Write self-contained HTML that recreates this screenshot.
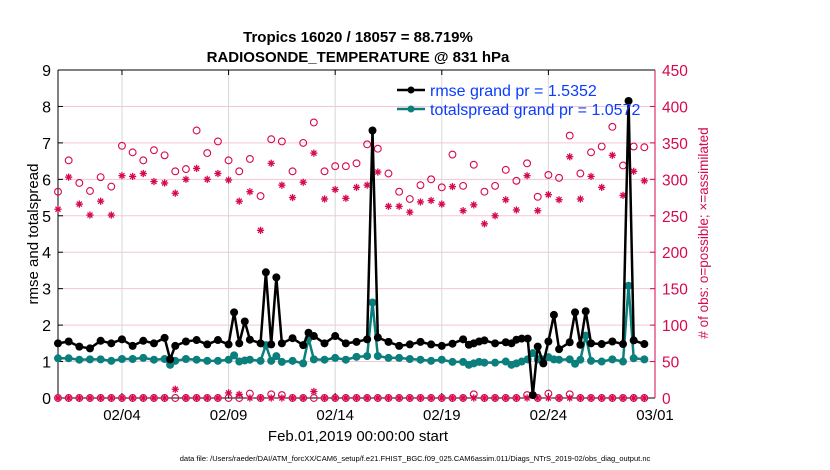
<!DOCTYPE html>
<html><head><meta charset="utf-8"><style>
html,body{margin:0;padding:0;background:#fff;}
svg{display:block;font-family:"Liberation Sans",sans-serif;}
</style></head><body>
<svg id="chart" width="830" height="470">
<text x="358" y="42" text-anchor="middle" font-size="15" font-weight="bold">Tropics 16020 / 18057 = 88.719%</text>
<text x="358" y="62" text-anchor="middle" font-size="15" font-weight="bold">RADIOSONDE_TEMPERATURE @ 831 hPa</text>
<g id="grid"></g>
<g id="axes"></g>
<g id="marks"></g>
<text transform="translate(38,234) rotate(-90)" text-anchor="middle" font-size="15">rmse and totalspread</text>
<text transform="translate(708,233) rotate(-90)" text-anchor="middle" font-size="13.5" fill="#d6084f"># of obs: o=possible; ×=assimilated</text>
<text x="358" y="441" text-anchor="middle" font-size="15">Feb.01,2019 00:00:00 start</text>
<text x="415" y="461" text-anchor="middle" font-size="7.5">data file: /Users/raeder/DAI/ATM_forcXX/CAM6_setup/f.e21.FHIST_BGC.f09_025.CAM6assim.011/Diags_NTrS_2019-02/obs_diag_output.nc</text>
<g>
<g>
<line x1="397" y1="90" x2="425" y2="90" stroke="#000" stroke-width="2.5"/><circle cx="411" cy="90" r="3.5" fill="#000"/>
<text x="430" y="96" font-size="16" fill="#0a3cff">rmse grand pr = 1.5352</text></g>
<g>
<line x1="397" y1="109" x2="425" y2="109" stroke="#0a7f7c" stroke-width="2.5"/><circle cx="411" cy="109" r="3.5" fill="#0a7f7c"/>
<text x="430" y="115" font-size="16" fill="#0a3cff">totalspread grand pr = 1.0572</text></g>
</g>
</svg>
<script>
const xTickLabels=["02/04","02/09","02/14","02/19","02/24","03/01"];
const xTickDays=[3,8,13,18,23,28];
const yTicksLeft=[0,1,2,3,4,5,6,7,8,9];
const yTicksRight=[0,50,100,150,200,250,300,350,400,450];
const lineT=[0,0.5,1,1.5,2,2.5,3,3.5,4,4.5,5,5.26,5.5,6,6.5,7,7.5,8,8.26,8.5,8.76,9,9.5,9.75,10,10.24,10.5,11,11.5,11.75,12,12.5,13,13.5,14,14.5,14.75,15,15.5,16,16.5,17,17.5,18,18.5,19,19.27,19.5,19.75,20,20.5,21,21.27,21.5,21.75,22.03,22.27,22.5,22.76,23,23.26,23.5,24,24.25,24.5,24.75,25,25.5,26,26.5,26.76,27,27.5];
const rmse=[1.5,1.55,1.41,1.36,1.57,1.5,1.61,1.43,1.57,1.5,1.65,1.06,1.43,1.55,1.59,1.47,1.59,1.47,2.35,1.5,2.1,1.6,1.5,3.45,1.47,3.31,1.5,1.64,1.45,1.79,1.7,1.5,1.7,1.5,1.54,1.61,7.34,1.66,1.54,1.43,1.47,1.54,1.47,1.43,1.49,1.61,1.46,1.5,1.55,1.58,1.5,1.53,1.5,1.6,1.63,1.63,0.08,1.41,0.95,1.55,2.28,1.34,1.53,2.35,1.46,2.38,1.5,1.48,1.55,1.48,8.15,1.58,1.48];
const spread=[1.09,1.09,1.05,1.06,1.06,1.02,1.07,1.07,1.1,1.05,1.07,0.91,1.02,1.07,1.05,1.02,1.02,1.05,1.17,1.0,1.03,1.05,1.02,1.45,1.02,1.15,0.99,1.02,0.95,1.63,1.06,1.05,1.1,1.05,1.13,1.15,2.62,1.15,1.1,1.1,1.07,1.05,1.02,1.05,0.99,0.99,0.91,0.95,0.99,0.97,0.97,1.0,0.91,0.95,1.0,1.06,1.23,1.06,1.06,1.12,1.06,1.05,1.06,0.94,1.05,1.71,1.02,1.0,1.06,1.0,3.08,1.09,1.06];
const obsT=[0,0.5,1,1.5,2,2.5,3,3.5,4,4.5,5,5.5,6,6.5,7,7.5,8,8.5,9,9.5,10,10.5,11,11.5,12,12.5,13,13.5,14,14.5,15,15.5,16,16.5,17,17.5,18,18.5,19,19.5,20,20.5,21,21.5,22,22.5,23,23.5,24,24.5,25,25.5,26,26.5,27,27.5];
const possible=[283,326,295,284,303,290,346,337,326,340,333,311,314,367,336,352,326,311,328,277,355,352,311,350,378,311,318,318,322,348,342,308,283,273,292,300,289,334,291,320,283,291,313,298,322,276,306,302,360,308,337,345,372,319,345,344];
const assimilated=[259,303,266,251,270,251,305,304,308,297,295,281,300,315,300,308,299,270,283,230,322,292,275,296,336,273,286,274,289,292,310,263,263,255,269,271,266,290,257,265,239,250,272,258,305,257,279,272,331,273,304,289,333,278,311,298];
const lowPossible=[0,0,0,0,0,0,0,0,0,0,0,0,0,0,0,0,0,0,6,0,5,4,0,0,0,0,0,0,0,0,0,0,0,0,0,0,0,0,0,5,0,0,0,0,4,0,6,0,5,0,0,0,0,0,0,0];
const lowAssim=[0,0,0,0,0,0,0,0,0,0,0,12,0,0,0,0,7,5,0,0,0,0,0,0,9,0,0,0,0,0,0,0,0,0,0,0,0,0,0,0,0,0,0,0,0,0,0,0,0,0,0,0,0,0,0,0];

const NS="http://www.w3.org/2000/svg";
const X0=58,X1=655,Y0=398,Y1=70;
const xs=t=>X0+t*(X1-X0)/28;
const yl=v=>Y0-v*(Y0-Y1)/9;
const yr=v=>Y0-v*(Y0-Y1)/450;
const RED="#d6084f",TEAL="#0a7f7c";
function mk(tag,attrs,parent){const e=document.createElementNS(NS,tag);for(const k in attrs)e.setAttribute(k,attrs[k]);parent.appendChild(e);return e;}
const grid=document.getElementById('grid'),axes=document.getElementById('axes'),marks=document.getElementById('marks');
yTicksLeft.forEach(v=>{if(v>0&&v<9){const l=mk('line',{x1:X0,x2:X1,y1:yl(v),y2:yl(v),stroke:'#f3c6d6','stroke-width':1},grid);}
 const t=mk('text',{x:X0-7,y:yl(v)+6,'text-anchor':'end','font-size':16},axes);t.textContent=v;
 
 mk('line',{x1:X0,x2:X0+5,y1:yl(v),y2:yl(v),stroke:'#000'},axes);});
yTicksRight.forEach(v=>{const t=mk('text',{x:X1+7,y:yr(v)+6,'font-size':15.5,fill:RED},axes);t.textContent=v;
 
 mk('line',{x1:X1-5,x2:X1,y1:yr(v),y2:yr(v),stroke:RED},axes);});
xTickDays.forEach((d,i)=>{const x=xs(d);
 if(d<28){const l=mk('line',{x1:x,x2:x,y1:Y1,y2:Y0,stroke:'#d8d8d8'},grid);}
 mk('line',{x1:x,x2:x,y1:Y0,y2:Y0-5,stroke:'#000'},axes);mk('line',{x1:x,x2:x,y1:Y1,y2:Y1+5,stroke:'#000'},axes);
 const t=mk('text',{x:x,y:Y0+22,'text-anchor':'middle','font-size':15},axes);t.textContent=xTickLabels[i];
 });
mk('line',{x1:X0,x2:X1,y1:Y0,y2:Y0,stroke:'#000'},axes);
mk('line',{x1:X0,x2:X1,y1:Y1,y2:Y1,stroke:'#000'},axes);
mk('line',{x1:X0,x2:X0,y1:Y1,y2:Y0,stroke:'#000'},axes);
mk('line',{x1:X1,x2:X1,y1:Y1,y2:Y0,stroke:RED},axes);

function star(x,y,parent){const g=mk('g',{stroke:RED,'stroke-width':1.3},parent);const r=3.6;
 mk('line',{x1:x-r,x2:x+r,y1:y,y2:y},g);mk('line',{x1:x,x2:x,y1:y-r,y2:y+r},g);
 mk('line',{x1:x-r*.7,x2:x+r*.7,y1:y-r*.7,y2:y+r*.7},g);mk('line',{x1:x-r*.7,x2:x+r*.7,y1:y+r*.7,y2:y-r*.7},g);return g;}
obsT.forEach((t,i)=>{
 const c=mk('circle',{cx:xs(t),cy:yr(possible[i]),r:3.4,fill:'none',stroke:RED,'stroke-width':1.1},marks);
 
 const s=star(xs(t),yr(assimilated[i]),marks);
 
 const c2=mk('circle',{cx:xs(t),cy:yr(lowPossible[i]),r:3.4,fill:'none',stroke:RED,'stroke-width':1.1},marks);
 
 const s2=star(xs(t),yr(lowAssim[i]),marks);
 
});
function series(vals,color,name){
 const p=mk('polyline',{points:lineT.map((t,i)=>xs(t)+','+yl(vals[i])).join(' '),fill:'none',stroke:color,'stroke-width':2.5,'stroke-linejoin':'round'},marks);
 
 lineT.forEach((t,i)=>{const c=mk('circle',{cx:xs(t),cy:yl(vals[i]),r:4,fill:color},marks);
  });
}
series(spread,TEAL,'totalspread');
series(rmse,'#000','rmse');
</script>
</body></html>
